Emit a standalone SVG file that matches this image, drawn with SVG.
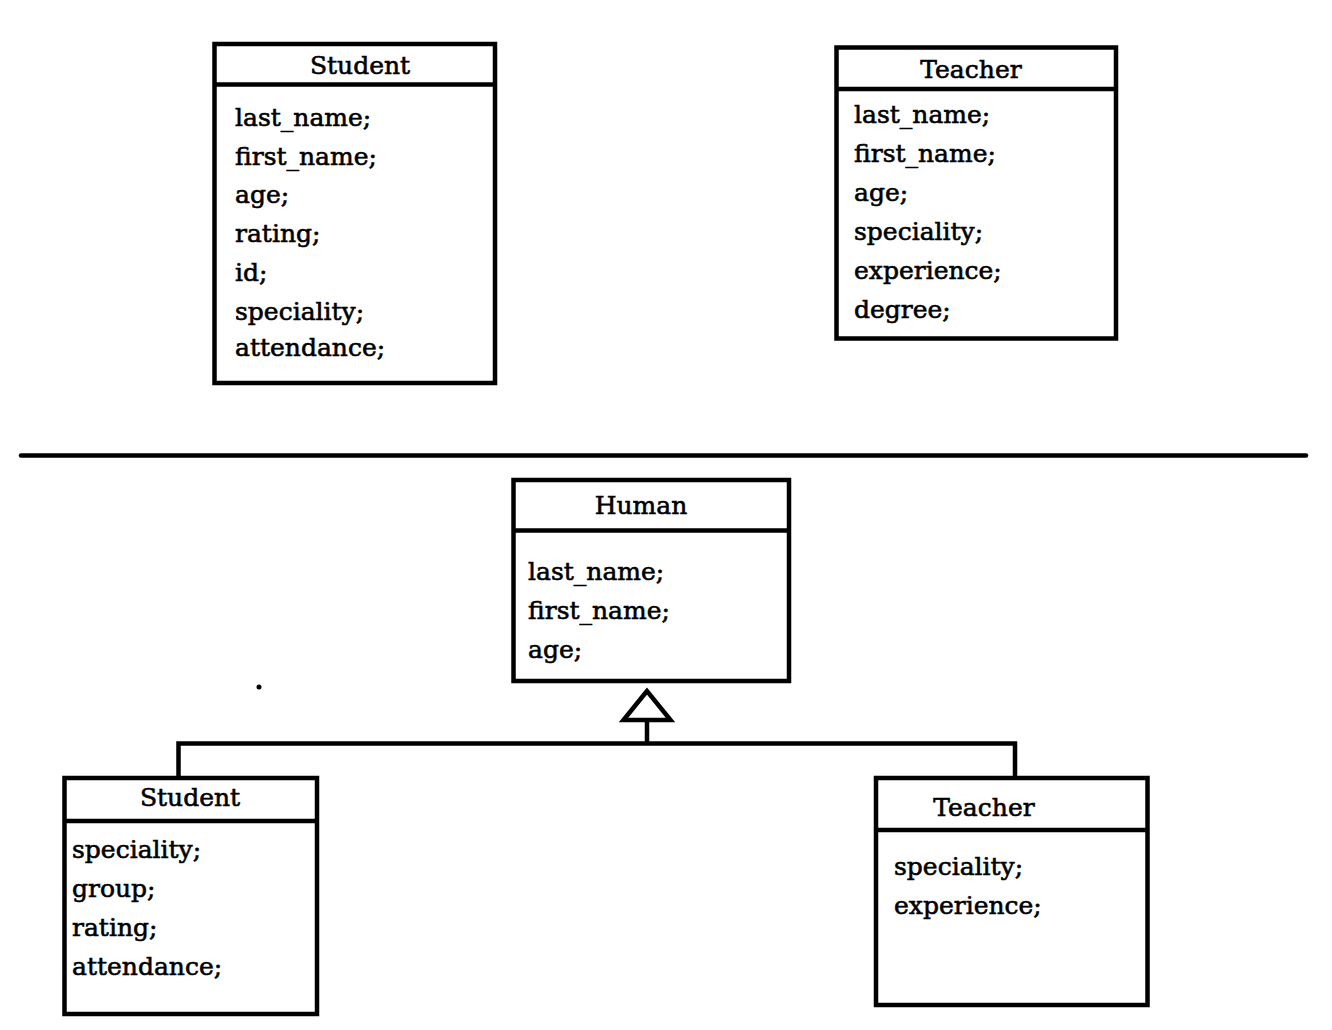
<svg xmlns="http://www.w3.org/2000/svg" width="1332" height="1030" viewBox="0 0 1332 1030">
<style>
.box{fill:#fff;stroke:#000;stroke-width:4.5}
.ln{fill:none;stroke:#000;stroke-width:4.5}
text{font-family:"DejaVu Serif","Liberation Serif",serif;font-size:25px;fill:#000;stroke:#000;stroke-width:0.6}
.t{text-anchor:middle}
</style>
<rect width="1332" height="1030" fill="#fff"/>
<g id="student-top">
<rect class="box" x="214.5" y="44" width="280.5" height="339"/>
<line class="ln" x1="214.5" y1="84.5" x2="495" y2="84.5"/>
<text class="t" x="360" y="74">Student</text>
<text x="235" y="126">last_name;</text>
<text x="235" y="165">first_name;</text>
<text x="235" y="203">age;</text>
<text x="235" y="242">rating;</text>
<text x="235" y="281">id;</text>
<text x="235" y="320">speciality;</text>
<text x="235" y="356">attendance;</text>
</g>
<g id="teacher-top">
<rect class="box" x="836.5" y="47.5" width="279.5" height="291"/>
<line class="ln" x1="836.5" y1="89" x2="1116" y2="89"/>
<text class="t" x="971" y="78">Teacher</text>
<text x="854" y="123">last_name;</text>
<text x="854" y="162">first_name;</text>
<text x="854" y="201">age;</text>
<text x="854" y="240">speciality;</text>
<text x="854" y="279">experience;</text>
<text x="854" y="318">degree;</text>
</g>
<line id="divider" x1="21" y1="455.5" x2="1306" y2="455.5" stroke="#000" stroke-width="4.5" stroke-linecap="round"/>
<circle id="dot" cx="259" cy="687" r="2.5" fill="#000"/>
<g id="human">
<rect class="box" x="513.5" y="480" width="275.5" height="201"/>
<line class="ln" x1="513.5" y1="530.5" x2="789" y2="530.5"/>
<text class="t" x="641" y="514">Human</text>
<text x="528" y="580">last_name;</text>
<text x="528" y="619">first_name;</text>
<text x="528" y="658">age;</text>
</g>
<g id="connectors">
<polyline class="ln" points="178.5,778 178.5,743.5 1015,743.5 1015,778"/>
<line class="ln" x1="647" y1="720" x2="647" y2="743.5"/>
<polygon class="ln" points="647,691 623.5,720 670.5,720" stroke-linejoin="miter"/>
</g>
<g id="student-bottom">
<rect class="box" x="64.5" y="778" width="252.5" height="236"/>
<line class="ln" x1="64.5" y1="821" x2="317" y2="821"/>
<text class="t" x="190" y="806">Student</text>
<text x="72" y="858">speciality;</text>
<text x="72" y="897">group;</text>
<text x="72" y="936">rating;</text>
<text x="72" y="975">attendance;</text>
</g>
<g id="teacher-bottom">
<rect class="box" x="876" y="778" width="271.5" height="227"/>
<line class="ln" x1="876" y1="830" x2="1147.5" y2="830"/>
<text class="t" x="984" y="816">Teacher</text>
<text x="894" y="875">speciality;</text>
<text x="894" y="914">experience;</text>
</g>
</svg>
